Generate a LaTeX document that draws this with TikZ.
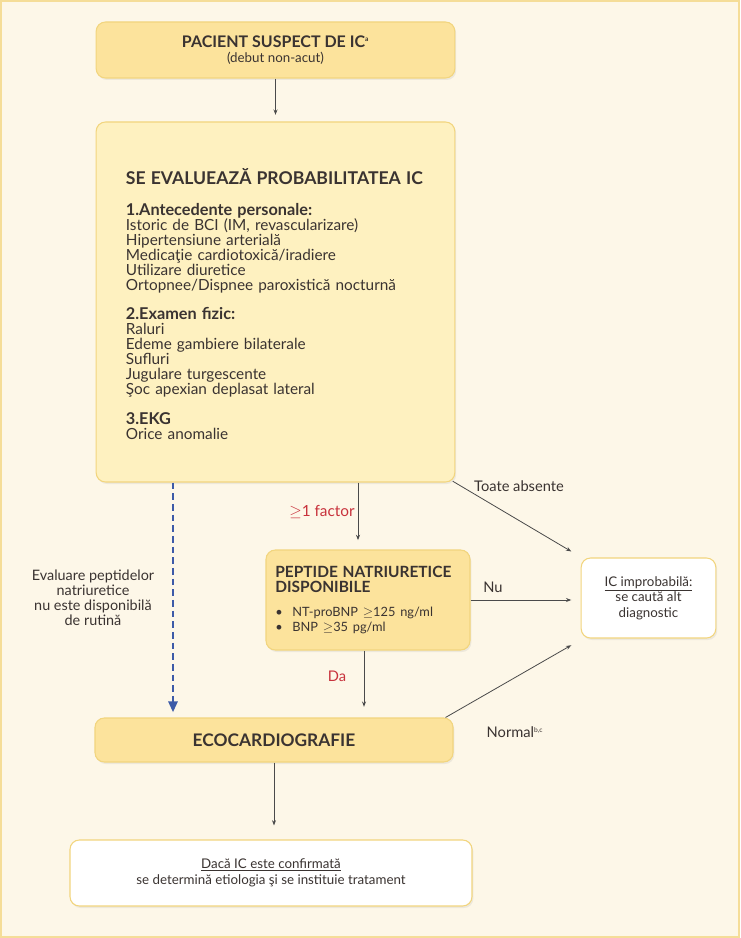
\documentclass[tikz,border=0pt]{standalone}
\usepackage{fontspec}
\setmainfont{Lato}
\usetikzlibrary{arrows.meta,shadows,positioning}
\definecolor{bgcream}{HTML}{FDF7E8}
\definecolor{boxyellow}{HTML}{FCE39C}
\definecolor{boxlight}{HTML}{FEF1C0}
\definecolor{boxedge}{HTML}{F2D57E}
\definecolor{inkdark}{HTML}{3A3331}
\definecolor{redlabel}{HTML}{C8323C}
\definecolor{dashblue}{HTML}{3D5BA8}
\definecolor{arrowgray}{HTML}{4A4A4A}
\begin{document}
\begin{tikzpicture}[
        x=0.75pt, y=-0.75pt,
        every node/.style={text=inkdark, font=\fontsize{10.8}{11.25}\selectfont},
        stepbox/.style={draw=boxedge, line width=0.8pt, rounded corners=7pt, fill=boxyellow,
            drop shadow={opacity=0.12, shadow xshift=1pt, shadow yshift=-1.5pt}},
        whitebox/.style={stepbox, fill=white},
        flow/.style={draw=arrowgray, line width=0.6pt, -{Stealth[length=4pt, width=3pt]}},
        dashflow/.style={draw=dashblue, line width=1.3pt, dash pattern=on 5pt off 3pt,
            -{Triangle[length=8pt, width=7pt]}},
        lbl/.style={font=\fontsize{11}{12}\selectfont}
    ]
        % Fundal
        \fill[bgcream] (0,0) rectangle (740,938);
        \draw[boxedge!80, line width=1.2pt] (0.8,0.8) rectangle (739.2,937.2);

        % Casete principale
        \node[stepbox, minimum width=269pt, minimum height=42pt, align=center] (suspect) at (275.5,50)
            {{\fontsize{12}{13.5}\selectfont\bfseries PACIENT SUSPECT DE IC\textsuperscript{\tiny a}}\\
             {\fontsize{10}{11}\selectfont (debut non-acut)}};
        \node[stepbox, fill=boxlight, minimum width=269pt, minimum height=270pt] (assess) at (275.5,302) {};
        \node[anchor=north west, inner sep=0pt, text width=235pt, align=left,
              font=\fontsize{11.5}{11.25}\selectfont]
              (assesstext) at ([xshift=22.5pt, yshift=-35pt]assess.north west)
            {{\fontsize{13.2}{14}\selectfont\bfseries SE EVALUEAZĂ PROBABILITATEA IC}\\[12pt]
             {\fontsize{12.2}{12}\selectfont\bfseries 1.Antecedente personale:}\\
             Istoric de BCI (IM, revascularizare)\\
             Hipertensiune arterială\\
             Medicaţie cardiotoxică/iradiere\\
             Utilizare diuretice\\
             Ortopnee/Dispnee paroxistică nocturnă\\[10.5pt]
             {\fontsize{12.2}{12}\selectfont\bfseries 2.Examen fizic:}\\
             Raluri\\
             Edeme gambiere bilaterale\\
             Sufluri\\
             Jugulare turgescente\\
             Şoc apexian deplasat lateral\\[11.5pt]
             {\fontsize{12.2}{12}\selectfont\bfseries 3.EKG}\\
             Orice anomalie};
        \node[stepbox, minimum width=153pt, minimum height=75pt, text width=139pt,
              inner xsep=7pt, align=left] (pep) at (368,600)
            {{\fontsize{11.6}{11.5}\selectfont\bfseries PEPTIDE NATRIURETICE\\DISPONIBILE}\\[5pt]
             {\fontsize{9.6}{12.5}\selectfont\textbullet\ \ NT-proBNP $\geq$125 ng/ml\\
             \textbullet\ \ BNP $\geq$35 pg/ml}\\[-6pt]};
        \node[whitebox, minimum width=101pt, minimum height=60pt, align=center,
              font=\fontsize{10}{11.6}\selectfont] (ic) at (648.5,598)
            {\underline{IC improbabilă:}\\se caută alt\\diagnostic};
        \node[stepbox, minimum width=268.5pt, minimum height=33pt] (eco) at (274,740)
            {\fontsize{13}{14}\selectfont\bfseries ECOCARDIOGRAFIE};
        \node[whitebox, minimum width=301.5pt, minimum height=49.5pt, align=center,
              font=\fontsize{10}{12}\selectfont] (final) at (271,873)
            {\underline{Dacă IC este confirmată}\\se determină etiologia şi se instituie tratament};

        % Etichete
        \node[lbl, text=redlabel, font=\fontsize{11.5}{12}\selectfont] (factor) at (322,512) {$\geq$1 factor};
        \node[lbl, text=redlabel] (da) at (337,676) {Da};
        \node[lbl] (absent) at (519,486) {Toate absente};
        \node[lbl] (nu) at (493,587) {Nu};
        \node[lbl] (normal) at (515,732) {Normal\textsuperscript{\tiny b,c}};
        \node[align=center] (noavail) at (93,598)
            {Evaluare peptidelor\\natriuretice\\nu este disponibilă\\de rutină};

        % Sageti
        \coordinate (fx) at (358,0);
        \coordinate (dx) at (364,0);
        \coordinate (dsh) at (173,0);
        \draw[flow, shorten >=5pt] (suspect) -- (assess);
        \draw[flow, shorten >=7pt] (assess.south -| fx) -- (pep.north -| fx);
        \draw[flow, shorten >=8pt] (pep.south -| dx) -- (eco.north -| dx);
        \draw[dashflow, shorten >=4pt] (assess.south -| dsh) -- (eco.north -| dsh);
        \draw[flow] ([xshift=-2pt, yshift=1pt]assess.south east) -- ([xshift=-7pt, yshift=4.5pt]ic.north west);
        \draw[flow, shorten >=7pt] (pep.east) -- (pep.east -| ic.west);
        \draw[flow] ([xshift=-6pt]eco.north east) -- ([xshift=-7pt, yshift=-5pt]ic.south west);
        \draw[flow, shorten >=10.5pt] (eco.south) -- (eco.south |- final.north);
    \end{tikzpicture}
\end{document}
